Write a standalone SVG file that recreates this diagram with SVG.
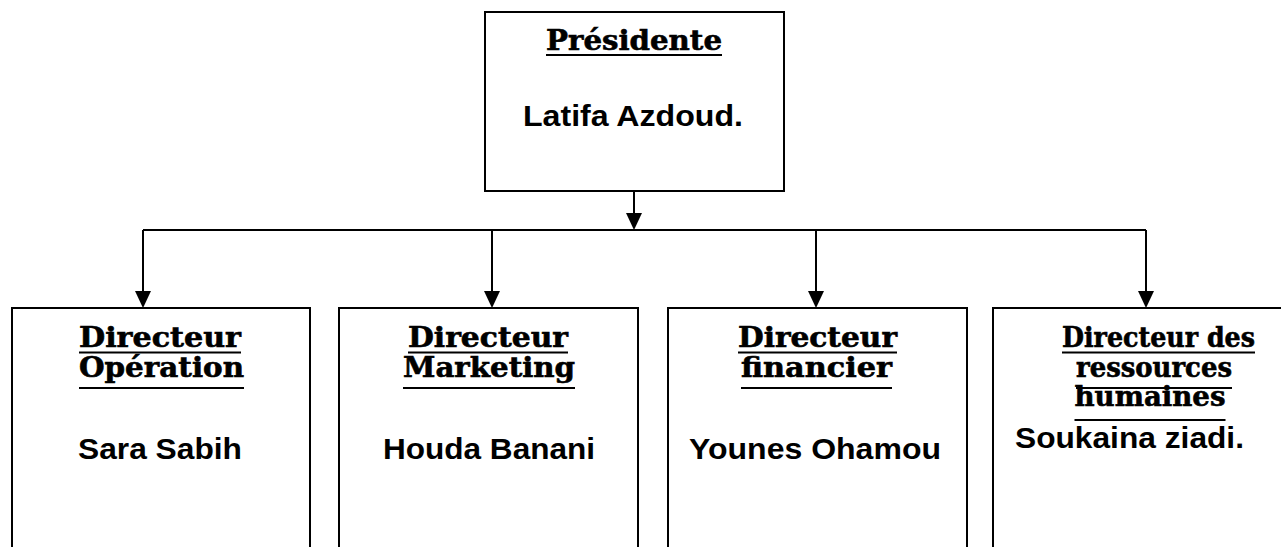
<svg xmlns="http://www.w3.org/2000/svg" width="1281" height="547" viewBox="0 0 1281 547">
<defs>
<style>
.box{fill:#fff;stroke:#000;stroke-width:2}
.hd{font-family:"DejaVu Serif","Liberation Serif",serif;font-weight:bold;font-size:27px;fill:#000;stroke:#000;stroke-width:0.6;text-anchor:middle}
.nm{font-family:"Liberation Sans",Arial,sans-serif;font-weight:bold;font-size:29.5px;fill:#000;text-anchor:middle}
.ul{stroke:#000;stroke-width:2}
.cn{fill:none;stroke:#000;stroke-width:2}
</style>
</defs>
<rect width="1281" height="547" fill="#fff"/>
<g id="connectors">
<path class="cn" d="M634,191 V214" />
<path d="M626,213 L642,213 L634,230 Z" fill="#000"/>
<path class="cn" d="M143,230 H1146" />
<path class="cn" d="M143,230 V292" />
<path d="M135,291 L151,291 L143,308 Z" fill="#000"/>
<path class="cn" d="M492,230 V292" />
<path d="M484,291 L500,291 L492,308 Z" fill="#000"/>
<path class="cn" d="M816,230 V292" />
<path d="M808,291 L824,291 L816,308 Z" fill="#000"/>
<path class="cn" d="M1146,230 V292" />
<path d="M1138,291 L1154,291 L1146,308 Z" fill="#000"/>
</g>
<g id="presidente">
<rect class="box" x="485" y="12" width="299" height="179"/>
<text class="hd" x="634" y="50" textLength="176" lengthAdjust="spacingAndGlyphs">Présidente</text>
<line class="ul" x1="546" y1="55" x2="722" y2="55"/>
<text class="nm" x="633" y="126" textLength="220" lengthAdjust="spacingAndGlyphs">Latifa Azdoud.</text>
</g>
<g id="dir-operation">
<rect class="box" x="12" y="308" width="298" height="260"/>
<text class="hd" x="160" y="347" textLength="162" lengthAdjust="spacingAndGlyphs">Directeur</text>
<line class="ul" x1="79" y1="352.5" x2="241" y2="352.5"/>
<text class="hd" x="161.5" y="377" textLength="165" lengthAdjust="spacingAndGlyphs">Opération</text>
<line class="ul" x1="79" y1="388" x2="244" y2="388"/>
<text class="nm" x="160" y="459" textLength="164" lengthAdjust="spacingAndGlyphs">Sara Sabih</text>
</g>
<g id="dir-marketing">
<rect class="box" x="339" y="308" width="299" height="260"/>
<text class="hd" x="488" y="347" textLength="160" lengthAdjust="spacingAndGlyphs">Directeur</text>
<line class="ul" x1="408" y1="352.5" x2="568" y2="352.5"/>
<text class="hd" x="489" y="377" textLength="172" lengthAdjust="spacingAndGlyphs">Marketing</text>
<line class="ul" x1="403" y1="388" x2="575" y2="388"/>
<text class="nm" x="489" y="459" textLength="212" lengthAdjust="spacingAndGlyphs">Houda Banani</text>
</g>
<g id="dir-financier">
<rect class="box" x="668" y="308" width="299" height="260"/>
<text class="hd" x="817.5" y="347" textLength="159" lengthAdjust="spacingAndGlyphs">Directeur</text>
<line class="ul" x1="738" y1="352.5" x2="897" y2="352.5"/>
<text class="hd" x="816.5" y="377" textLength="151" lengthAdjust="spacingAndGlyphs">financier</text>
<line class="ul" x1="741" y1="388" x2="892" y2="388"/>
<text class="nm" x="815" y="459" textLength="252" lengthAdjust="spacingAndGlyphs">Younes Ohamou</text>
</g>
<g id="dir-rh">
<rect class="box" x="993" y="308" width="300" height="260"/>
<text class="hd" x="1158.5" y="347" textLength="193" lengthAdjust="spacingAndGlyphs">Directeur des</text>
<line class="ul" x1="1062" y1="352.5" x2="1255" y2="352.5"/>
<text class="hd" x="1154" y="377" textLength="156" lengthAdjust="spacingAndGlyphs">ressources</text>
<line class="ul" x1="1076" y1="388" x2="1232" y2="388"/>
<text class="hd" x="1150" y="406" textLength="151" lengthAdjust="spacingAndGlyphs">humaines</text>
<line class="ul" x1="1074.5" y1="420" x2="1225.5" y2="420"/>
<text class="nm" x="1129.5" y="448" textLength="229" lengthAdjust="spacingAndGlyphs">Soukaina ziadi.</text>
</g>
</svg>
